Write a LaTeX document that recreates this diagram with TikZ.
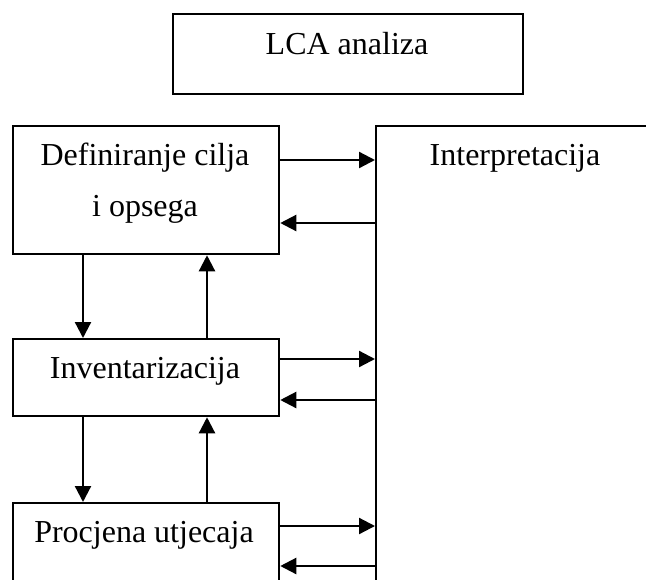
\documentclass[tikz,border=0pt]{standalone}
\usepackage{fontspec}
\setmainfont{Liberation Serif}
\usetikzlibrary{arrows.meta}
\begin{document}
\begin{tikzpicture}[x=0.75pt,y=-0.75pt,
  box/.style={draw, line width=1.7pt, inner sep=0pt, anchor=north west},
  lbl/.style={font=\fontsize{24}{28}\selectfont, anchor=base, inner sep=0pt},
  arr/.style={line width=1.7pt, -{Triangle[length=12pt,width=12pt]}}]
\useasboundingbox (0,0) rectangle (646,579);
\clip (0,0) rectangle (646,579);
% boxes
\node[box, minimum width=262.5pt, minimum height=60pt] (lca) at (172,13) {};
\node[box, minimum width=199.5pt, minimum height=96pt] (def) at (12,125) {};
\node[box, minimum width=199.5pt, minimum height=57.75pt] (inv) at (12,338) {};
\node[box, minimum width=199.5pt, minimum height=90pt] (proc) at (12,502) {};
\node[box, minimum width=240pt, minimum height=375pt] (interp) at (375,125) {};
% labels
\node[lbl] (tlca) at (347,54) {LCA analiza};
\node[lbl] (tdef1) at (145,165) {Definiranje cilja};
\node[lbl] (tdef2) at (145,216) {i opsega};
\node[lbl] (tinv) at (145,378) {Inventarizacija};
\node[lbl] (tproc) at (144,542) {Procjena utjecaja};
\node[lbl] (tint) at (515,165) {Interpretacija};
% vertical arrows
\draw[arr] ([xshift=53.25pt]def.south west) -- ([xshift=53.25pt]inv.north west);
\draw[arr] ([xshift=146.25pt]inv.north west) -- ([xshift=146.25pt]def.south west);
\draw[arr] ([xshift=53.25pt]inv.south west) -- ([xshift=53.25pt]proc.north west);
\draw[arr] ([xshift=146.25pt]proc.north west) -- ([xshift=146.25pt]inv.south west);
% horizontal arrows
\coordinate (d1) at ([yshift=-26.25pt]def.north east);
\coordinate (d2) at ([yshift=-73.5pt]def.north east);
\coordinate (i1) at ([yshift=-15.75pt]inv.north east);
\coordinate (i2) at ([yshift=-46.5pt]inv.north east);
\coordinate (p1) at ([yshift=-18pt]proc.north east);
\coordinate (p2) at ([yshift=-48pt]proc.north east);
\draw[arr] (d1) -- (interp.west |- d1);
\draw[arr] (interp.west |- d2) -- (d2);
\draw[arr] (i1) -- (interp.west |- i1);
\draw[arr] (interp.west |- i2) -- (i2);
\draw[arr] (p1) -- (interp.west |- p1);
\draw[arr] (interp.west |- p2) -- (p2);
\end{tikzpicture}
\end{document}
